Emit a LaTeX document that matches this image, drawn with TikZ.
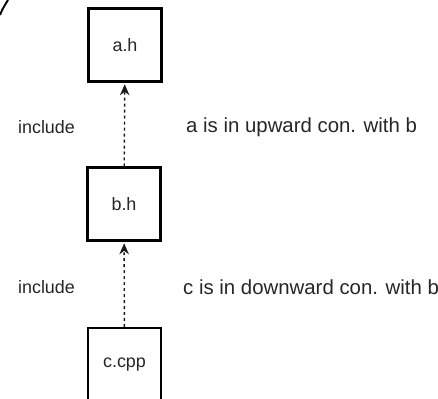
\documentclass[tikz,border=0pt]{standalone}
\usepackage{fontspec}
\setmainfont{Liberation Sans}
\usetikzlibrary{arrows.meta,positioning}
\begin{document}
\begin{tikzpicture}
    \tikzset{
      file/.style={draw,line width=1.2pt,minimum size=1.46cm,inner sep=0mm,
        font=\fontsize{10.2}{12}\selectfont,text=black!85},
      incl/.style={black!90,line width=0.8pt,dash pattern=on 1.7pt off 1.7pt,
        -{Stealth[length=2.2mm,width=1.9mm]},shorten >=1pt},
      side/.style={font=\fontsize{10.2}{12}\selectfont,text=black!85},
      remark/.style={anchor=west,font=\fontsize{11.6}{14}\selectfont,text=black!85}
    }
        \useasboundingbox (0,0) rectangle (8.76,7.98);
        %FILES
        \node[file] (a) at (2.5,7.08) {a.h};
        \node[file] (b) at (2.48,3.9) {b.h};
        \node[file] (c) at (2.49,0.69) {c.cpp};

        %INCLUDES
        \draw[incl] (b) -- (a);
        \draw[incl] (c) -- (b);

        \node[side] (ia) at (0.93,5.44) {include};
        \node[side] (ib) at (0.93,2.24) {include};

        \node[remark] (ra) at (3.6,5.44) {a is in upward con. with b};
        \node[remark] (rb) at (3.54,2.24) {c is in downward con. with b};

        % corner of a cut shape
        \draw[line width=1.1pt] (0,7.68) .. controls (0.05,7.8) .. (0.16,7.98);
\end{tikzpicture}
\end{document}
